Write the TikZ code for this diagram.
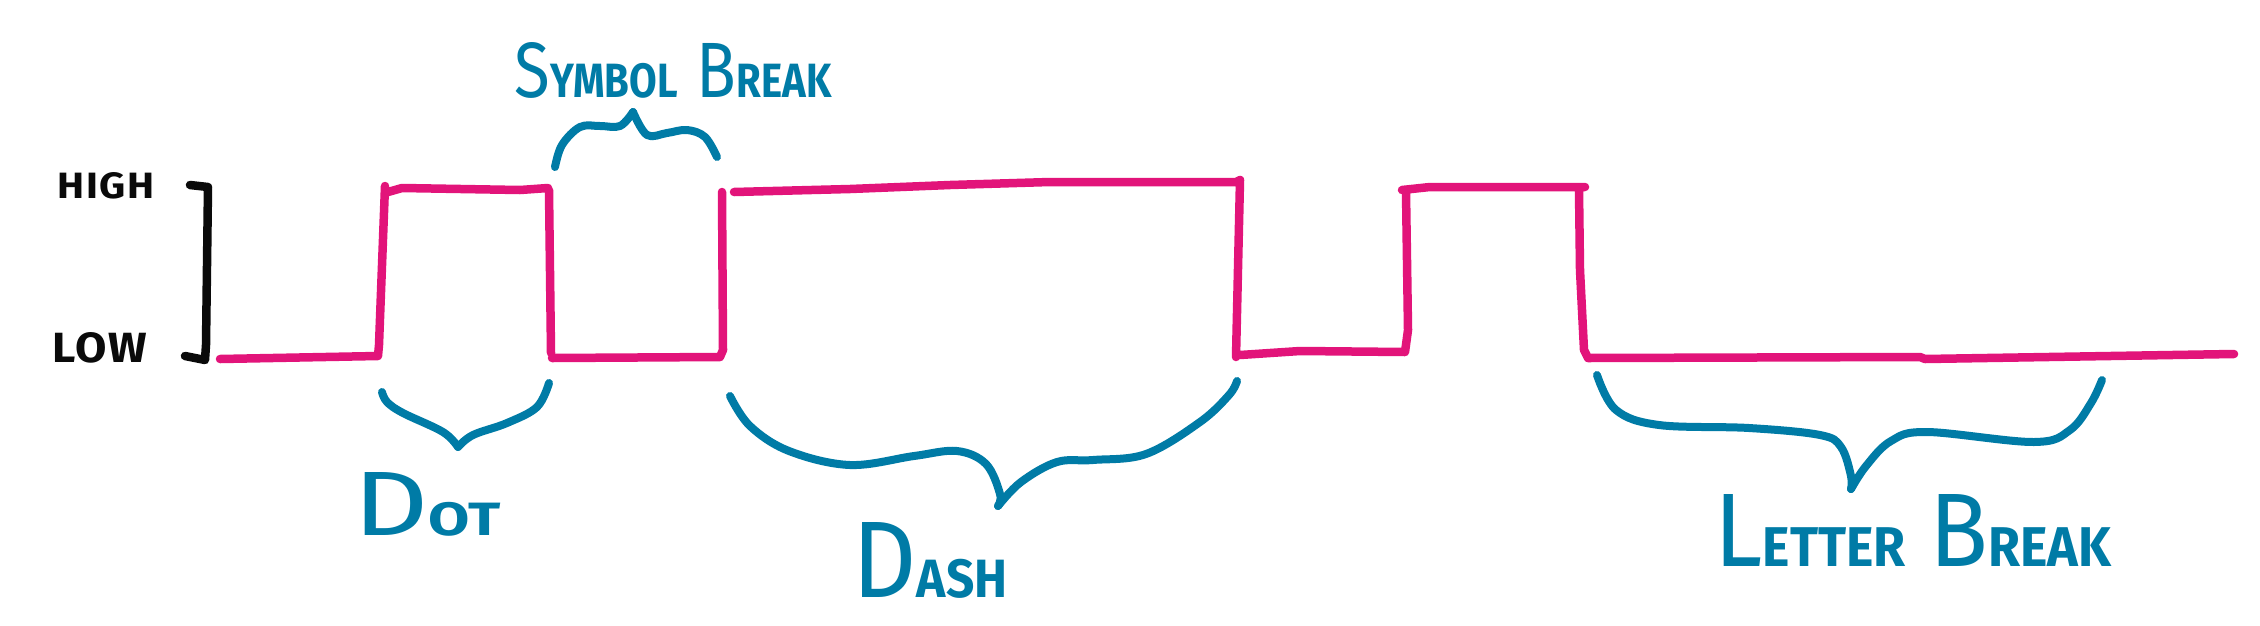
\documentclass[tikz,border=0pt]{standalone}
\usepackage{fontspec}
\usepackage{graphicx}
\newfontfamily\hand{Fira Sans}
\newfontfamily\handsp[LetterSpace=4]{Fira Sans}
\definecolor{sig}{HTML}{E2147A}
\definecolor{ann}{HTML}{007BA6}
\definecolor{ink}{HTML}{0A0A0A}
\newcommand\hsc[4]{{\hand\fontsize{#1}{#1}\selectfont #3}{\hand\bfseries\fontsize{#2}{#2}\selectfont #4}}
\begin{document}
\begin{tikzpicture}[x=1pt,y=-1pt, line cap=round, line join=round,
  sigline/.style={draw=sig, line width=8.5pt},
  braceline/.style={draw=ann, line width=8pt},
  axisline/.style={draw=ink, line width=8.5pt},
  lvl/.style={font=\handsp\bfseries\fontsize{40}{40}\selectfont, text=ink, inner sep=0pt, anchor=base},
  lbl/.style={text=ann, inner sep=0pt, anchor=base}]
\useasboundingbox (0,0) rectangle (2260,625);

% level labels
\node[lvl] (high) at (106,198) {\resizebox{97pt}{26pt}{HIGH}};
\node[lvl] (low) at (100,362) {\resizebox{95pt}{30pt}{LOW}};

% level bracket
\path[axisline] (190,185) -- (208,187) -- (206,345) -- (205,360) -- (185,356);

% signal
\path[sigline] (220,359) -- (378,356) -- (379,345) -- (385,186)
  (388,192) -- (402,188) -- (520,190) -- (548,188)
  (549,190) -- (551,353)
  (552,358) -- (720,357) -- (723,350) -- (722,192)
  (734,192) -- (850,189) -- (950,185) -- (1050,182) -- (1236,182) -- (1240,180) -- (1236,357)
  (1240,355) -- (1300,351) -- (1405,352) -- (1408,330) -- (1406,192)
  (1402,190) -- (1430,187) -- (1585,187)
  (1579,190) -- (1580,270) -- (1584,350) -- (1588,358) -- (1920,357) -- (1925,359) -- (2234,354);

% braces
\coordinate (dotTip) at (458,447);
\draw[braceline] plot[smooth, tension=0.6] coordinates {(382,392) (387,402) (403,413) (443,432) (458,447)};
\draw[braceline] plot[smooth, tension=0.6] coordinates {(458,447) (473,435) (507,423) (537,407) (549,383)};

\coordinate (symTip) at (633,112);
\draw[braceline] plot[smooth, tension=0.6] coordinates {(555,167) (562,145) (580,127) (600,126) (620,126) (633,112)};
\draw[braceline] plot[smooth, tension=0.6] coordinates {(633,112) (647,135) (667,133) (687,130) (705,137) (717,157)};

\coordinate (dashTip) at (998,506);
\draw[braceline] plot[smooth, tension=0.6] coordinates {(730,396) (750,426) (789,451) (850,465) (914,456) (957,451) (986,464) (1000,494) (998,506)};
\draw[braceline] plot[smooth, tension=0.6] coordinates {(998,506) (1021,482) (1057,462) (1093,460) (1146,454) (1200,422) (1229,395) (1237,381)};

\coordinate (letTip) at (1851,489);
\draw[braceline] plot[smooth, tension=0.6] coordinates {(1597,375) (1616,410) (1659,425) (1749,428) (1820,435) (1841,447) (1851,476) (1851,489)};
\draw[braceline] plot[smooth, tension=0.6] coordinates {(1851,489) (1866,466) (1891,441) (1927,432) (2034,442) (2070,430) (2091,403) (2102,380)};

% labels
\node[lbl] (symbol) at (673,97) {\resizebox{317pt}{55pt}{\hsc{75}{46}{S}{YMBOL}\hspace{22pt}\hsc{75}{46}{B}{REAK}}};
\node[lbl] (dot) at (427,535) {\resizebox{147pt}{63pt}{\hsc{90}{46}{D}{OT}}};
\node[lbl] (dash) at (930,597) {\resizebox{155pt}{75pt}{\hsc{105}{52}{D}{ASH}}};
\node[lbl] (letter) at (1913,566) {\resizebox{397pt}{72pt}{\hsc{97}{52}{L}{ETTER}\hspace{24pt}\hsc{97}{52}{B}{REAK}}};
\end{tikzpicture}
\end{document}
